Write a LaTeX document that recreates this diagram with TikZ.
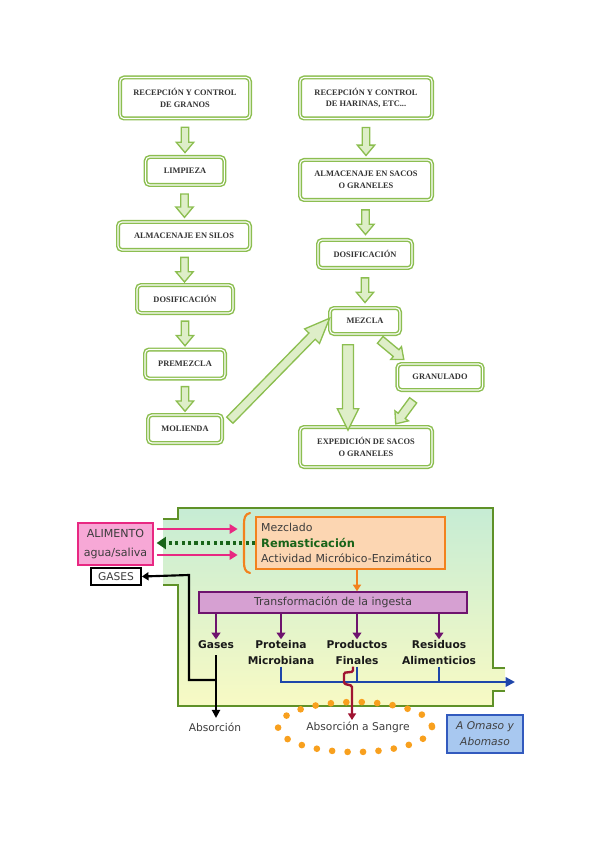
\documentclass[tikz,border=0pt]{standalone}
\usepackage{fontspec}
\setmainfont{Liberation Serif}
\newfontfamily\vsans{DejaVu Sans}
\usetikzlibrary{shapes.arrows,calc,arrows.meta}

\definecolor{boxgreen}{RGB}{140,190,80}
\definecolor{arrowlite}{RGB}{222,238,200}
\definecolor{rumen}{RGB}{95,145,40}
\definecolor{topgreen}{RGB}{198,236,212}
\definecolor{botyellow}{RGB}{248,250,196}
\definecolor{pinkfill}{RGB}{247,168,214}
\definecolor{pinkline}{RGB}{232,40,130}
\definecolor{darkgreen}{RGB}{25,100,25}
\definecolor{peach}{RGB}{252,214,178}
\definecolor{orangeline}{RGB}{242,130,30}
\definecolor{purplefill}{RGB}{214,160,210}
\definecolor{purpleline}{RGB}{110,20,110}
\definecolor{bluel}{RGB}{30,70,170}
\definecolor{crimson}{RGB}{160,20,50}
\definecolor{dotorange}{RGB}{248,160,30}
\definecolor{bluefill}{RGB}{168,200,240}
\definecolor{blueline}{RGB}{50,90,190}
\definecolor{txtgray}{RGB}{60,60,60}

\tikzset{
  gbox/.style={draw=boxgreen, double=white, line width=1.1pt, double distance=0.8pt,
    rounded corners=3pt, fill=white, align=center, inner sep=1pt,
    font=\bfseries\fontsize{6.3}{8.8}\selectfont, text=black!80},
  blockarr/.style={single arrow, draw=boxgreen, fill=arrowlite, line width=1pt,
    inner xsep=0pt, inner ysep=2.3pt, single arrow head extend=3.7pt,
    single arrow tip angle=80, anchor=center},
  bsans/.style={font=\vsans\fontsize{8}{10}\selectfont, text=txtgray},
  blab/.style={font=\vsans\bfseries\fontsize{8}{12}\selectfont, text=black!90, align=center, inner sep=1pt},
  pinkarr/.style={draw=pinkline, line width=2.2pt, -{Triangle[length=6pt,width=7pt]}},
  purarr/.style={draw=purpleline, line width=2pt, -{Triangle[length=5pt,width=6.5pt]}},
  blk/.style={draw=black, line width=1.6pt},
}

\begin{document}
\begin{tikzpicture}[x=0.75pt,y=-0.75pt]
\useasboundingbox (0,0) rectangle (599,848);

% ---------------- top flowchart ----------------
\node[gbox, minimum width=97.5pt, minimum height=30.75pt] (r1) at (185,98) {RECEPCIÓN Y CONTROL\\DE GRANOS};
\node[gbox, minimum width=59pt, minimum height=21pt] (limp) at (185,171) {LIMPIEZA};
\node[gbox, minimum width=99pt, minimum height=21pt] (silos) at (184,236) {ALMACENAJE EN SILOS};
\node[gbox, minimum width=72pt, minimum height=21pt] (dos1) at (185,299) {DOSIFICACIÓN};
\node[gbox, minimum width=60pt, minimum height=21.75pt] (prem) at (185,364) {PREMEZCLA};
\node[gbox, minimum width=55.5pt, minimum height=21pt] (mol) at (185,429) {MOLIENDA};

\node[gbox, minimum width=99pt, minimum height=30.75pt] (r2) at (366,98) {RECEPCIÓN Y CONTROL\\DE HARINAS, ETC...};
\node[gbox, minimum width=99pt, minimum height=30pt] (sacos) at (366,180) {ALMACENAJE EN SACOS\\O GRANELES};
\node[gbox, minimum width=70.5pt, minimum height=21pt] (dos2) at (365,254) {DOSIFICACIÓN};
\node[gbox, minimum width=52.5pt, minimum height=19.5pt] (mez) at (365,321) {MEZCLA};
\node[gbox, minimum width=64pt, minimum height=19.5pt] (gran) at (440,377) {GRANULADO};
\node[gbox, minimum width=99pt, minimum height=30pt] (exp) at (366,447) {EXPEDICIÓN DE SACOS\\O GRANELES};

% block arrows
\node[blockarr, rotate=-90, minimum height=19pt] (a1) at ($(r1.south)!0.5!(limp.north)$) {};
\node[blockarr, rotate=-90, minimum height=17.5pt] (a2) at ($(limp.south)!0.5!(silos.north)$) {};
\node[blockarr, rotate=-90, minimum height=18.5pt] (a3) at ($(silos.south)!0.5!(dos1.north)$) {};
\node[blockarr, rotate=-90, minimum height=18.5pt] (a4) at ($(dos1.south)!0.5!(prem.north)$) {};
\node[blockarr, rotate=-90, minimum height=18.5pt] (a5) at ($(prem.south)!0.5!(mol.north)$) {};
\node[blockarr, rotate=-90, minimum height=21pt] (a6) at ($(r2.south)!0.5!(sacos.north)$) {};
\node[blockarr, rotate=-90, minimum height=18.5pt] (a7) at ($(sacos.south)!0.5!(dos2.north)$) {};
\node[blockarr, rotate=-90, minimum height=18.5pt] (a8) at ($(dos2.south)!0.5!(mez.north)$) {};
\node[blockarr, rotate=45.6, minimum height=107pt, inner ysep=2.8pt,
      single arrow head extend=4.5pt, single arrow tip angle=45] (a9) at ($(mol.east)!0.5!(mez.west)+(0,-2)$) {};
\node[blockarr, rotate=-90, minimum height=64pt, inner ysep=3.6pt,
      single arrow head extend=3.9pt, single arrow tip angle=53] (a10) at (348,382) {};
\node[blockarr, rotate=-39.8, minimum height=23pt, inner ysep=2.8pt,
      single arrow head extend=3pt] (a11) at (390,348) {};
\node[blockarr, rotate=-126.5, minimum height=22pt, inner ysep=2.8pt,
      single arrow head extend=3pt] (a12) at (406,410) {};

% ---------------- bottom diagram ----------------
\shade[top color=topgreen, bottom color=botyellow]
  (163,519) -- (178,519) -- (178,508) -- (493,508) -- (493,668) -- (505,668)
  -- (505,691) -- (493,691) -- (493,706) -- (178,706) -- (178,585) -- (163,585) -- cycle;
\draw[rumen, line width=1.5pt] (163,519) -- (178,519) -- (178,508) -- (493,508) -- (493,668) -- (505,668);
\draw[rumen, line width=1.5pt] (505,691) -- (493,691) -- (493,706) -- (178,706) -- (178,585) -- (163,585);

% left boxes
\node[draw=pinkline, fill=pinkfill, line width=1.2pt, minimum width=56pt, minimum height=31.5pt,
      align=center, inner sep=1pt, font=\vsans\fontsize{8.3}{14.5}\selectfont, text=txtgray] (alim) at (115.5,544) {ALIMENTO\\agua/saliva};
\node[draw=black, fill=white, line width=1.3pt, minimum width=37.5pt, minimum height=12.5pt,
      inner sep=0pt, font=\vsans\fontsize{8}{10}\selectfont, text=txtgray] (gasbox) at (116,576.5) {GASES};

% orange box
\node[draw=orangeline, fill=peach, line width=1.1pt, minimum width=141.75pt, minimum height=39pt,
      text width=134pt, align=left, inner sep=3pt, font=\vsans\fontsize{8.2}{11.6}\selectfont, text=txtgray] (ob) at (350.5,543)
  {Mezclado\\{\color{darkgreen}\bfseries\fontsize{8.6}{11.6}\selectfont Remasticación}\\Actividad Micróbico-Enzimático};

% bracket
\draw[orangeline, line width=1.6pt, line cap=round] (250,513) .. controls (245,514) and (244,518) .. (244,524)
  -- (244,562) .. controls (244,568) and (245,572) .. (250,573);

% arrows to/from the ALIMENTO box
\draw[pinkarr] ($(alim.east)+(3,-15)$) -- ++(81,0);
\draw[pinkarr] ($(alim.east)+(3,11)$) -- ++(81,0);
\draw[draw=darkgreen, line width=2.4pt, dash pattern=on 2.4pt off 2.4pt,
      -{Triangle[length=7pt,width=9pt]}] ($(ob.west)+(0,0)$) -- ($(alim.east)+(3,-1)$);

% transformation
\node[draw=purpleline, fill=purplefill, line width=1.1pt, minimum width=201pt, minimum height=15.75pt,
      inner sep=0pt, font=\vsans\fontsize{8.2}{10}\selectfont, text=txtgray] (tr) at (333,602.5) {Transformación de la ingesta};
\draw[draw=orangeline, line width=1.6pt, -{Triangle[length=5pt,width=6pt]}] ($(ob.south)+(6.5,0)$) -- ($(tr.north)+(24,0)$);

\node[blab] (gasl) at (216,645) {Gases};
\node[blab] (prot) at (281,653) {Proteina\\Microbiana};
\node[blab] (prod) at (357,653) {Productos\\Finales};
\node[blab] (res) at (439,653) {Residuos\\Alimenticios};
\foreach \n in {gasl,prot,prod,res}
  \draw[purarr] (\n.north |- tr.south) -- (\n.north);

% absorption labels
\node[bsans] (abs) at (215,727) {Absorción};
\node[bsans] (sang) at (358,727) {Absorción a Sangre};

% black lines
\draw[blk, -{Triangle[length=6pt,width=6pt]}] (gasl.south |- 0,655) -- (abs.north -| gasl.south);
\draw[blk, -{Triangle[length=5pt,width=6pt]}] (gasl.south |- 0,680) -- (189,680) -- (189,575) -- (gasbox.east);

% blue line
\coordinate (bend) at (515,682);
\draw[bluel, line width=1.8pt, -{Triangle[length=7pt,width=7pt]}] (prot.south) -- (prot.south |- bend) -- (bend);
\draw[bluel, line width=1.8pt] (prod.south) -- (prod.south |- bend);
\draw[bluel, line width=1.8pt] (res.south) -- (res.south |- bend);

% red zigzag
\coordinate (rtip) at (352,720);
\draw[crimson, line width=1.8pt, rounded corners=1pt, -{Triangle[length=5pt,width=6pt]}]
  ($(prod.south)+(-4,0)$) -- ++(0,5) -- ++(-9,1) -- ++(0,11) -- ++(8,2) -- (rtip);

% dotted ellipse
\draw[dotorange, line width=5pt, line cap=round, dash pattern=on 0pt off 11.6pt]
  (355,727) ellipse [x radius=77, y radius=25];

% blue box
\node[draw=blueline, fill=bluefill, line width=1.1pt, minimum width=57pt, minimum height=28.5pt,
      align=center, inner sep=1pt, font=\vsans\itshape\fontsize{8}{12}\selectfont, text=black!75] (om) at (485,734) {A Omaso y\\Abomaso};
\end{tikzpicture}
\end{document}
